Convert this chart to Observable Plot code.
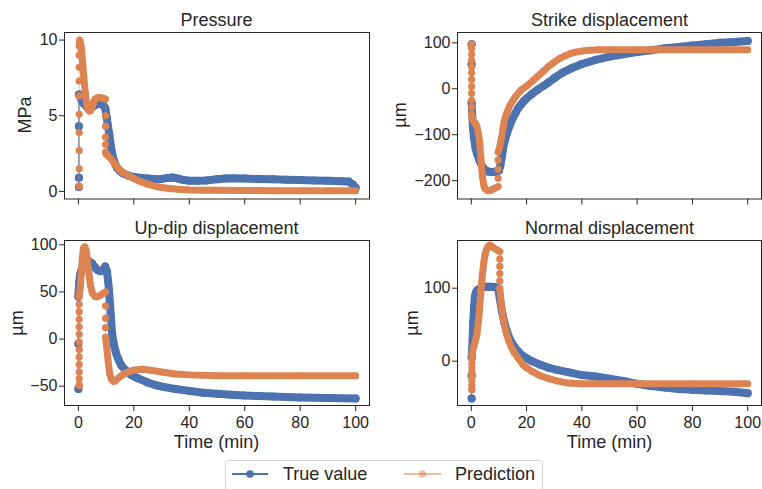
<!DOCTYPE html>
<html>
<head>
<meta charset="utf-8">
<script src="https://cdn.jsdelivr.net/npm/d3@7"></script>
<script src="https://cdn.jsdelivr.net/npm/@observablehq/plot@0.6"></script>
<style>
  body { margin: 0; background: #fff; }
  #wrap { position: relative; width: 762px; height: 489px; overflow: hidden;
          font-family: "Liberation Sans", Arial, sans-serif; color: #262626; background: #fff; }
  .abs { position: absolute; white-space: nowrap; }
  .title { font-size: 18px; line-height: 20px; transform: translate(-50%, -50%); }
  .ylab { font-size: 18px; line-height: 20px; transform: translate(-50%, -50%) rotate(-90deg); }
</style>
</head>
<body>
<div id="wrap"></div>
<script>
// ---------- data (time in min, value) ----------
const timeTicks = [0, 20, 40, 60, 80, 100];
const panelTitles = ["Pressure", "Strike displacement", "Up-dip displacement", "Normal displacement"];
const yLabels = ["MPa", "µm", "µm", "µm"];
const xLabel = "Time (min)";
const seriesNames = ["True value", "Prediction"];

const pressureTicks = [0, 5, 10];
const strikeTicks = [-200, -100, 0, 100];
const updipTicks = [-50, 0, 50, 100];
const normalTicks = [0, 100];

const pressureTrue = [
  [0.2, 0.3], [0.2, 0.9], [0.2, 4.3], [0.2, 6.4],
  [0.5, 6.3], [1, 6.1], [1.5, 5.9], [2, 5.8], [3, 5.6], [4, 5.5], [5, 5.6], [6, 5.7],
  [7, 5.8], [8, 5.8], [9, 5.7], [9.7, 5.5], [10.2, 4.9], [10.7, 4.3], [11.2, 3.7],
  [11.7, 3.0], [12.2, 2.5], [12.7, 2.1], [13.3, 1.8], [14, 1.55], [15, 1.35], [16, 1.2],
  [18, 1.05], [20, 0.95], [22, 0.9], [25, 0.85], [28, 0.8], [30, 0.82], [32, 0.88],
  [34, 0.92], [36, 0.85], [38, 0.75], [40, 0.7], [43, 0.7], [46, 0.72], [50, 0.8],
  [53, 0.85], [56, 0.87], [60, 0.85], [65, 0.82], [70, 0.8], [75, 0.77], [80, 0.75],
  [85, 0.72], [90, 0.7], [95, 0.68], [97.5, 0.65], [99, 0.45], [100, 0.25]
];
const pressurePred = [
  [0.3, 0.35], [0.3, 0.35], [0.3, 1.5], [0.3, 2.7], [0.3, 3.9], [0.3, 5.1], [0.3, 6.3], [0.3, 7.3],
  [0.3, 8.2], [0.3, 9.0], [0.3, 9.6],
  [0.5, 10.0], [1, 9.6], [1.5, 8.6], [2, 7.5], [2.5, 6.5], [3, 5.8], [3.5, 5.4], [4, 5.3],
  [4.5, 5.35], [5, 5.6], [5.5, 5.9], [6, 6.1], [7, 6.2], [8, 6.2], [9, 6.15], [9.8, 6.1],
  [9.8, 5.0], [9.8, 4.3], [9.8, 3.6], [9.8, 3.1], [9.8, 2.6],
  [10, 2.45], [10.5, 2.4], [11, 2.3], [12, 2.1], [13, 1.85], [14, 1.6], [15, 1.4],
  [16, 1.25], [18, 1.05], [20, 0.85], [22, 0.68], [25, 0.48], [28, 0.33], [30, 0.26],
  [33, 0.19], [36, 0.14], [40, 0.1], [45, 0.08], [50, 0.07], [60, 0.06], [70, 0.05],
  [80, 0.05], [90, 0.05], [100, 0.04]
];

const strikeTrue = [
  [0.1, 97], [0.1, 53], [0.1, -30],
  [0.3, -55], [0.6, -85], [1, -108], [1.5, -128], [2, -140], [3, -157], [4, -170],
  [5, -177], [6, -180], [7, -181], [8, -181], [9, -180], [10, -178], [10.5, -168],
  [11, -150], [11.5, -130], [12, -115], [13, -95], [14, -78], [15, -64], [16, -53],
  [17, -42], [18, -34], [19, -27], [20, -21], [22, -11], [24, -2], [26, 6], [28, 14],
  [30, 23], [33, 35], [36, 44], [40, 54], [45, 63], [50, 70], [55, 75], [60, 80],
  [65, 84], [70, 88], [75, 91], [80, 94], [85, 97], [90, 100], [95, 102], [100, 104]
];
const strikePred = [
  [0.1, 97], [0.1, 88], [0.1, 75], [0.1, 62], [0.1, 48], [0.1, 35], [0.1, 20], [0.1, 5],
  [0.1, -10], [0.1, -25], [0.1, -40], [0.1, -55],
  [0.5, -68], [1, -72], [1.5, -76], [2, -82], [2.5, -95], [3, -115], [3.5, -155],
  [4, -190], [4.5, -210], [5, -218], [6, -222], [7, -221], [8, -218], [9, -215], [9.7, -213],
  [9.7, -195], [9.7, -175], [9.7, -155], [9.7, -138],
  [10.2, -128], [11, -105], [11.5, -85], [12, -68], [13, -50], [14, -36], [15, -26],
  [16, -17], [18, -3], [20, 6], [22, 16], [24, 27], [26, 38], [28, 49], [30, 58],
  [32, 66], [34, 72], [36, 77], [38, 80], [40, 82], [43, 84], [46, 85], [50, 85],
  [60, 85], [70, 85], [80, 85], [90, 85], [100, 85]
];

const updipTrue = [
  [0, -53], [0, -5], [0, 45],
  [0.3, 60], [0.6, 68], [1, 72], [1.5, 76], [2, 79], [3, 82], [4, 82], [5, 80], [6, 76],
  [7, 73], [8, 72], [9, 73], [9.7, 77], [10.3, 72], [10.7, 62], [11, 53], [11.4, 38],
  [11.7, 25], [12.2, 5], [12.8, -6], [13.5, -14], [14.5, -22], [15.5, -28], [17, -33],
  [19, -38], [21, -41], [25, -46], [28, -49], [31, -51], [35, -53], [40, -55], [45, -57],
  [50, -58], [55, -59], [60, -60], [65, -60.5], [70, -61], [80, -62], [90, -62.5], [100, -63]
];
const updipPred = [
  [0.3, -49], [0.3, -49], [0.3, -42], [0.3, -35], [0.3, -27], [0.3, -19], [0.3, -11], [0.3, -3],
  [0.3, 5], [0.3, 13], [0.3, 21], [0.3, 29], [0.3, 37], [0.3, 45],
  [0.7, 55], [1, 68], [1.4, 85], [1.8, 96], [2.3, 98], [2.8, 94], [3.3, 84], [3.8, 70],
  [4.3, 58], [5, 49], [6, 45], [7, 45], [8, 46.5], [9, 48.5], [9.8, 50],
  [9.8, 35], [9.8, 22], [9.8, 12], [9.8, 2],
  [10.2, -8], [10.8, -25], [11.3, -37], [12, -43], [12.8, -45], [13.5, -44], [15, -40],
  [17, -36], [20, -33], [23, -32], [26, -33], [30, -35], [35, -37], [40, -38], [50, -39],
  [60, -39], [80, -39], [100, -39]
];

const normalTrue = [
  [0.1, -51], [0.1, -20], [0.1, 5],
  [0.3, 15], [0.7, 55], [1, 75], [1.3, 89], [1.8, 95], [2.4, 98], [3, 99], [4, 101],
  [5, 102], [6, 102], [7, 102], [8, 101.5], [9, 101], [9.7, 100], [10.3, 86], [11, 70],
  [11.5, 61], [12, 52], [12.7, 43], [13.5, 34], [14.5, 26], [15.5, 20], [17, 13],
  [18.7, 7], [20, 4], [22, 0], [25, -5], [28, -9], [31, -12], [35, -15], [40, -19],
  [45, -21], [50, -24], [55, -27], [60, -31], [65, -34], [70, -36], [75, -38], [80, -39],
  [85, -40], [90, -41], [95, -42], [100, -44]
];
const normalPred = [
  [0.2, -39], [0.2, -39], [0.2, -33], [0.2, -27], [0.2, -21], [0.2, -15], [0.2, -9], [0.2, -3],
  [0.2, 3], [0.2, 9],
  [0.5, 14], [1, 22], [1.5, 28], [2, 36], [2.5, 52], [3, 72], [3.5, 96], [4, 118],
  [4.5, 135], [5, 146], [5.5, 153], [6, 157], [6.7, 159], [7.5, 157], [8.5, 154],
  [9.5, 152], [10.3, 150],
  [10.3, 140], [10.3, 130], [10.3, 120], [10.3, 110], [10.3, 100],
  [10.6, 88], [11, 74], [11.5, 60], [12, 49], [12.7, 38], [13.5, 28], [14.5, 19],
  [15.5, 12], [17, 4], [18.7, -5], [20, -9], [22, -14], [25, -20], [28, -24], [31, -27],
  [35, -30], [40, -31], [50, -31], [60, -31], [80, -31], [100, -31]
];

// ---------- drawing ----------
const BLUE = "#4c72b0";
const ORANGE = "#dd8452";
const INK = "#262626";
const FONT = '"Liberation Sans", Arial, sans-serif';

// split a series into runs: consecutive samples at the same instant are a jump
function toRows(points) {
  let z = 0;
  return points.map((p, i) => {
    if (i > 0 && p[0] - points[i - 1][0] < 0.1) z++;
    return { t: p[0], v: p[1], z };
  });
}
const fmt = d => (d < 0 ? "\u2212" + Math.abs(d) : String(d));

const wrap = document.getElementById("wrap");

function panel(o) {
  const A = toRows(o.trueData), B = toRows(o.predData);
  const svg = Plot.plot({
    width: o.width, height: o.height,
    marginLeft: o.ml, marginRight: o.mr, marginTop: o.mt, marginBottom: o.mb,
    style: { fontFamily: FONT, fontSize: "16px", color: INK, background: "transparent", overflow: "visible" },
    x: { domain: [-5, 105] },
    y: { domain: o.yDomain },
    marks: [
      Plot.line(A, { x: "t", y: "v", z: "z", stroke: BLUE, strokeWidth: 8, strokeLinecap: "round", strokeLinejoin: "round" }),
      Plot.line(A, { x: "t", y: "v", stroke: BLUE, strokeWidth: 1.2 }),
      Plot.dot(A, { x: "t", y: "v", r: 4, fill: BLUE }),
      Plot.line(B, { x: "t", y: "v", z: "z", stroke: ORANGE, strokeWidth: 7, strokeLinecap: "round", strokeLinejoin: "round" }),
      Plot.line(B, { x: "t", y: "v", stroke: ORANGE, strokeOpacity: 0.4, strokeWidth: 1.2 }),
      Plot.dot(B, { x: "t", y: "v", r: 3.6, fill: ORANGE, fillOpacity: 0.42 }),
      Plot.frame({ stroke: INK, strokeWidth: 1 }),
      Plot.axisX({ ticks: timeTicks, tickSize: 6, tickPadding: 5, label: null,
                   tickFormat: o.showX ? (d => String(d)) : (() => "") }),
      Plot.axisY({ ticks: o.yTicks, tickSize: 5, tickPadding: 2, label: null, tickFormat: fmt })
    ]
  });
  svg.style.position = "absolute";
  svg.style.left = o.left + "px";
  svg.style.top = o.top + "px";
  wrap.appendChild(svg);
}

panel({ trueData: pressureTrue, predData: pressurePred, yDomain: [-0.5, 10.5], yTicks: pressureTicks,
        showX: false, left: 0, top: 0, width: 381, height: 215, ml: 64, mr: 12, mt: 32, mb: 16.5 });
panel({ trueData: strikeTrue, predData: strikePred, yDomain: [-240, 122.5], yTicks: strikeTicks,
        showX: false, left: 381, top: 0, width: 381, height: 215, ml: 76, mr: 1, mt: 32, mb: 16.5 });
panel({ trueData: updipTrue, predData: updipPred, yDomain: [-70.5, 104.6], yTicks: updipTicks,
        showX: true, left: 0, top: 210, width: 381, height: 240, ml: 64, mr: 12, mt: 30, mb: 45 });
panel({ trueData: normalTrue, predData: normalPred, yDomain: [-60.7, 165.3], yTicks: normalTicks,
        showX: true, left: 381, top: 210, width: 381, height: 240, ml: 76, mr: 1, mt: 30, mb: 45 });

function addText(cls, text, x, y) {
  const d = document.createElement("div");
  d.className = "abs " + cls;
  d.textContent = text;
  d.style.left = x + "px";
  d.style.top = y + "px";
  wrap.appendChild(d);
}
const centersX = [216.5, 609.5, 216.5, 609.5];
const titleY = [20, 20, 228, 228];
panelTitles.forEach((t, i) => addText("title", t, centersX[i], titleY[i]));
const ylabX = [25, 400, 17, 412];
const ylabY = [115, 115, 323, 323];
yLabels.forEach((t, i) => addText("ylab", t, ylabX[i], ylabY[i]));
addText("title", xLabel, 216.5, 442);
addText("title", xLabel, 609.5, 442);

// legend
const ns = "http://www.w3.org/2000/svg";
const box = document.createElement("div");
box.className = "abs";
Object.assign(box.style, { left: "225px", top: "460px", width: "318px", height: "36px",
  border: "1px solid #d4d4d4", borderRadius: "4px", boxSizing: "border-box", background: "#fff" });
wrap.appendChild(box);
const lg = document.createElementNS(ns, "svg");
lg.setAttribute("width", 318); lg.setAttribute("height", 36);
lg.style.position = "absolute"; lg.style.left = "225px"; lg.style.top = "460px";
const items = [
  { name: seriesNames[0], color: BLUE, op: 1, x0: 7, x1: 43, tx: 58 },
  { name: seriesNames[1], color: ORANGE, op: 0.55, x0: 179, x1: 216, tx: 230 }
];
for (const it of items) {
  const l = document.createElementNS(ns, "line");
  l.setAttribute("x1", it.x0); l.setAttribute("x2", it.x1);
  l.setAttribute("y1", 14); l.setAttribute("y2", 14);
  l.setAttribute("stroke", it.color); l.setAttribute("stroke-width", 1.8);
  l.setAttribute("stroke-opacity", it.op);
  lg.appendChild(l);
  const c = document.createElementNS(ns, "circle");
  c.setAttribute("cx", (it.x0 + it.x1) / 2); c.setAttribute("cy", 14); c.setAttribute("r", 3.8);
  c.setAttribute("fill", it.color); c.setAttribute("fill-opacity", it.op);
  lg.appendChild(c);
  const t = document.createElementNS(ns, "text");
  t.setAttribute("x", it.tx); t.setAttribute("y", 14);
  t.setAttribute("dy", "0.35em");
  t.setAttribute("font-family", FONT); t.setAttribute("font-size", 18);
  t.setAttribute("fill", INK);
  t.textContent = it.name;
  lg.appendChild(t);
}
wrap.appendChild(lg);
</script>
</body>
</html>
